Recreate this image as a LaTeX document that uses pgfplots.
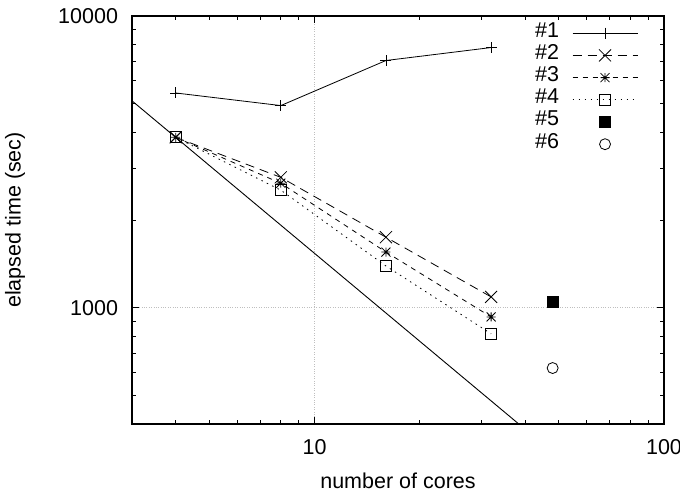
\documentclass[border=0pt]{standalone}
\usepackage{fontspec}
\setmainfont{Liberation Sans}
\usepackage{pgfplots}
\pgfplotsset{compat=1.18}
\pgfplotsset{markonly legend/.style={legend image code/.code={\draw[##1] plot coordinates {(32.5bp,0bp)};}}}
\pgfdeclareplotmark{gpstar}{%
 \pgfpathmoveto{\pgfqpoint{-\pgfplotmarksize}{0pt}}\pgfpathlineto{\pgfqpoint{\pgfplotmarksize}{0pt}}%
 \pgfpathmoveto{\pgfqpoint{0pt}{-\pgfplotmarksize}}\pgfpathlineto{\pgfqpoint{0pt}{\pgfplotmarksize}}%
 \pgfpathmoveto{\pgfqpoint{-\pgfplotmarksize}{-\pgfplotmarksize}}\pgfpathlineto{\pgfqpoint{\pgfplotmarksize}{\pgfplotmarksize}}%
 \pgfpathmoveto{\pgfqpoint{-\pgfplotmarksize}{\pgfplotmarksize}}\pgfpathlineto{\pgfqpoint{\pgfplotmarksize}{-\pgfplotmarksize}}%
 \pgfusepathqstroke}
\newcommand{\gpfont}{\fontsize{21.5bp}{25bp}\selectfont}
\begin{document}
\gpfont
\begin{tikzpicture}
\path[use as bounding box] (-132bp,-72bp) rectangle (548bp,424bp);
\begin{axis}[
 at={(0,0)}, anchor=south west,
 scale only axis, width=532bp, height=408bp,
 xmode=log, ymode=log,
 xmin=3, xmax=100, ymin=400, ymax=10000,
 xtick={10,100}, xticklabels={10,100},
 ytick={1000,10000}, yticklabels={1000,10000},
 minor xtick={3,4,5,6,7,8,9,20,30,40,50,60,70,80,90},
 minor ytick={400,500,600,700,800,900,2000,3000,4000,5000,6000,7000,8000,9000},
 tick align=inside, tick pos=both,
 major tick length=7bp, minor tick length=4bp,
 every tick/.style={black, line width=0.8bp},
 axis line style={line width=1.3bp},
 grid=major, major grid style={gray!50, dotted, line width=0.8bp},
 every tick label/.append style={inner sep=0pt, outer sep=0pt, font=\gpfont},
 yticklabel style={xshift=-14bp},
 xticklabel style={yshift=-15bp},
 xlabel={number of cores}, ylabel={elapsed time (sec)},
 xlabel style={at={(axis description cs:0.5,-0.1397)}, anchor=center, font=\gpfont},
 ylabel style={at={(axis description cs:-0.2199,0.5)}, anchor=center, font=\gpfont},
 legend plot pos=right, legend cell align=right,
 legend style={at={(axis description cs:0.951,0.985)}, anchor=north east, draw=none, fill=none,
   inner sep=0pt, outer sep=0pt, row sep=0pt, column sep=13bp,
   font=\gpfont,
   nodes={inner sep=0pt, text height=15bp, text depth=7.2bp}},
 legend image code/.code={\draw[mark repeat=2,mark phase=2,#1] plot coordinates {(0bp,0bp)(32.5bp,0bp)(65bp,0bp)};},
]
\addplot[black, line width=0.8bp, mark=+, mark size=5.5bp, mark options={solid}] coordinates {(4,5448)(8,4932)(16,7039)(32,7797)};
\addlegendentry{\#1}
\addplot[black, line width=0.8bp, dash pattern=on 9bp off 6bp, mark=x, mark size=8.5bp, mark options={solid}] coordinates {(4,3840)(8,2800)(16,1746)(32,1090)};
\addlegendentry{\#2}
\addplot[black, line width=0.8bp, dash pattern=on 5bp off 5bp, mark=gpstar, mark size=4.5bp, mark options={solid}] coordinates {(4,3840)(8,2673)(16,1553)(32,931)};
\addlegendentry{\#3}
\addplot[black, line width=0.8bp, dash pattern=on 1.5bp off 4.5bp, mark=square, mark size=5.5bp, mark options={solid}] coordinates {(4,3840)(8,2531)(16,1391)(32,815)};
\addlegendentry{\#4}
\addplot[black, only marks, mark=square*, mark size=5.5bp, markonly legend] coordinates {(48,1051)};
\addlegendentry{\#5}
\addplot[black, only marks, mark=o, mark size=5.5bp, line width=0.8bp, markonly legend] coordinates {(48,622)};
\addlegendentry{\#6}
\addplot[black, line width=0.9bp, forget plot] coordinates {(3,5120)(38.4,400)};
\end{axis}
\end{tikzpicture}
\end{document}
